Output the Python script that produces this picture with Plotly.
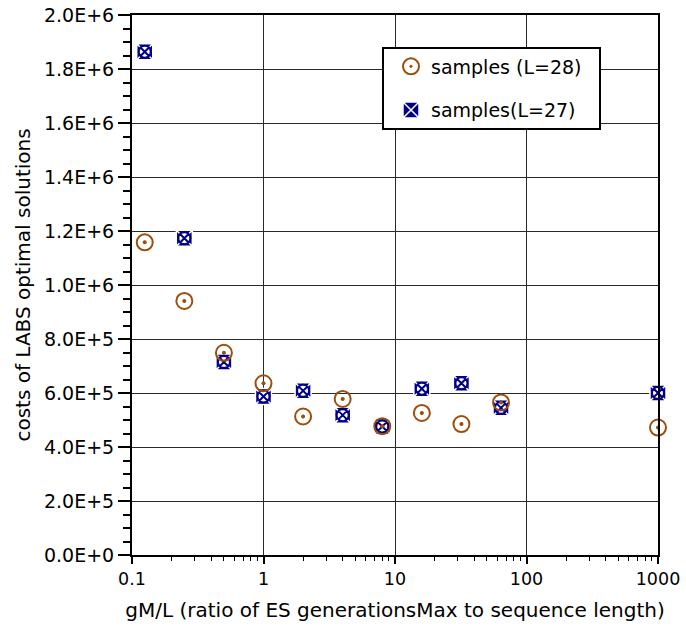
import plotly.graph_objects as go

# gM/L values (ratio of ES generationsMax to sequence length)
gm_ratio = [0.125, 0.25, 0.5, 1, 2, 4, 8, 16, 32, 64, 1000]

# costs of LABS optimal solutions
cost_L28 = [1.158e6, 9.41e5, 7.49e5, 6.36e5, 5.13e5, 5.78e5, 4.77e5, 5.26e5, 4.85e5, 5.65e5, 4.72e5]
cost_L27 = [1.864e6, 1.173e6, 7.15e5, 5.87e5, 6.08e5, 5.18e5, 4.76e5, 6.16e5, 6.36e5, 5.45e5, 6.0e5]

# axis ticks
x_ticks = [0.1, 1, 10, 100, 1000]
x_ticktext = ["0.1", "1", "10", "100", "1000"]
y_ticks = [0, 2e5, 4e5, 6e5, 8e5, 1e6, 1.2e6, 1.4e6, 1.6e6, 1.8e6, 2e6]
y_ticktext = ["0.0E+0", "2.0E+5", "4.0E+5", "6.0E+5", "8.0E+5", "1.0E+6",
              "1.2E+6", "1.4E+6", "1.6E+6", "1.8E+6", "2.0E+6"]

FONT = "DejaVu Sans"
BROWN = "#9C4F0C"
NAVY = "#000088"

# plot-area geometry in pixels
W, H = 686, 631
ML, MR, MT, MB = 132, 28, 15, 76
PW, PH = W - ML - MR, H - MT - MB


def px_to_paper(px, py):
    return (px - ML) / PW, (H - MB - py) / PH


fig = go.Figure()

# L=27: navy square with a crossed white disc inside
fig.add_trace(go.Scatter(
    x=gm_ratio, y=cost_L27, mode="markers", name="samples(L=27)",
    legendrank=2, legendgroup="b", cliponaxis=False,
    marker=dict(symbol="square-x", size=16, color=NAVY,
                line=dict(color="white", width=1.5)),
))
fig.add_trace(go.Scatter(
    x=gm_ratio, y=cost_L27, mode="markers", showlegend=False,
    legendgroup="b", cliponaxis=False, hoverinfo="skip",
    marker=dict(symbol="circle-x", size=12, color="white",
                line=dict(color=NAVY, width=2)),
))

# L=28: open brown circle with a centre dot
fig.add_trace(go.Scatter(
    x=gm_ratio, y=cost_L28, mode="markers", name="samples (L=28)",
    legendrank=1, legendgroup="a", cliponaxis=False,
    marker=dict(symbol="circle-open-dot", size=16, color=BROWN,
                line=dict(color=BROWN, width=2)),
))
fig.add_trace(go.Scatter(
    x=gm_ratio, y=cost_L28, mode="markers", showlegend=False,
    legendgroup="a", cliponaxis=False, hoverinfo="skip",
    marker=dict(symbol="circle", size=4, color=BROWN, line=dict(width=0)),
))

# legend frame
bx0, by0 = px_to_paper(383, 129)
bx1, by1 = px_to_paper(600, 48)
fig.add_shape(type="rect", xref="paper", yref="paper",
              x0=bx0, y0=by0, x1=bx1, y1=by1,
              line=dict(color="black", width=2), fillcolor="white",
              layer="above")

lx, ly = px_to_paper(391, 47.5)

fig.update_layout(
    width=W, height=H,
    margin=dict(l=ML, r=MR, t=MT, b=MB),
    paper_bgcolor="white", plot_bgcolor="white",
    font=dict(family=FONT, size=19, color="black"),
    legend=dict(
        x=lx, y=ly, xanchor="left", yanchor="top",
        bgcolor="rgba(0,0,0,0)", borderwidth=0,
        font=dict(family=FONT, size=19),
        tracegroupgap=16, traceorder="grouped",
    ),
    xaxis=dict(
        type="log", range=[-1, 3], automargin=False,
        tickvals=x_ticks, ticktext=x_ticktext,
        tickfont=dict(family=FONT, size=17.5),
        ticks="outside", ticklen=7, tickwidth=1.5, tickcolor="black",
        showline=True, linecolor="black", linewidth=2, mirror=True,
        showgrid=True, gridcolor="#2a2a2a", gridwidth=1,
        zeroline=False,
        minor=dict(ticks="outside", ticklen=4, tickwidth=1, tickcolor="black",
                   dtick="D1", showgrid=False),
        title=dict(text="gM/L (ratio of ES generationsMax to sequence length)",
                   font=dict(family=FONT, size=20), standoff=15),
    ),
    yaxis=dict(
        range=[0, 2e6], automargin=False,
        tickvals=y_ticks, ticktext=y_ticktext,
        tickfont=dict(family=FONT, size=19),
        ticks="outside", ticklen=12, tickwidth=1.5, tickcolor="black",
        showline=True, linecolor="black", linewidth=2, mirror=True,
        showgrid=True, gridcolor="#2a2a2a", gridwidth=1,
        zeroline=False,
        minor=dict(ticks="outside", ticklen=7, tickwidth=1.5, tickcolor="black",
                   dtick=5e4, showgrid=False),
        title=dict(text="costs of LABS optimal solutions",
                   font=dict(family=FONT, size=20), standoff=8),
    ),
)

fig.write_html("out.html")
